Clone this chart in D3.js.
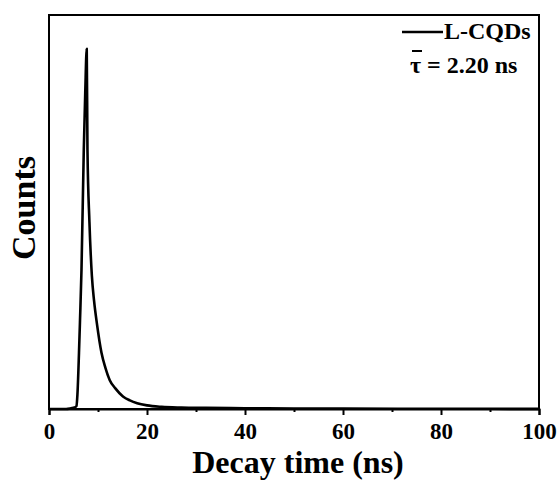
<!DOCTYPE html>
<html>
<head>
<meta charset="utf-8">
<script src="https://cdn.jsdelivr.net/npm/d3@7"></script>
<style>
  body { margin: 0; background: #fff; }
  text { font-family: "Liberation Serif", "Times New Roman", serif; font-weight: bold; fill: #000; }
</style>
</head>
<body>
<svg id="chart" width="560" height="480"></svg>
<script>
// decay trace (counts normalised to the peak)
const timeNs = [0, 3.5, 4.5, 5.2, 5.6, 5.8, 6.12, 6.33, 6.63, 7.1, 7.4, 7.7,
  7.85, 8.25, 8.75, 9.2, 9.8, 10.7, 11.5, 12.4, 13.5, 15.1, 16.5, 18, 20,
  23, 27, 32, 40, 50, 60, 75, 90, 100];
const counts = [0, 0, 0.002, 0.004, 0.008, 0.04, 0.156, 0.247, 0.386, 0.72, 0.88, 1.0,
  0.72, 0.52, 0.37, 0.30, 0.235, 0.157, 0.115, 0.08, 0.058, 0.035, 0.024, 0.016, 0.010,
  0.006, 0.004, 0.003, 0.002, 0.0015, 0.001, 0.0007, 0.0005, 0.0004];
const xTicks = [0, 20, 40, 60, 80, 100];
const xMinorTicks = [10, 30, 50, 70, 90];
const seriesName = 'L-CQDs';
const tauLabel = '2.20 ns';

const margin = { top: 15, right: 21, bottom: 71, left: 49 };
const width = 560, height = 480;
const svg = d3.select('#chart');

const x = d3.scaleLinear().domain([0, 100]).range([margin.left, width - margin.right]);
const y = d3.scaleLinear().domain([0, 1.094]).range([height - margin.bottom, margin.top]);

const data = timeNs.map((t, i) => ({ t, c: counts[i] }));

// frame
svg.append('rect')
  .attr('x', margin.left).attr('y', margin.top)
  .attr('width', x(100) - x(0)).attr('height', y(0) - y(1.094))
  .attr('fill', 'none').attr('stroke', '#000').attr('stroke-width', 2);

// x axis
const xAxis = svg.append('g')
  .attr('transform', `translate(0,${y(0)})`)
  .call(d3.axisBottom(x).tickValues(xTicks).tickSize(6).tickPadding(8).tickFormat(d3.format('d')));
xAxis.select('.domain').attr('stroke-width', 2);
xAxis.selectAll('.tick line').attr('stroke-width', 2);
xAxis.selectAll('.tick text')
  .style('font-family', '"Liberation Serif", serif').style('font-weight', 'bold')
  .style('font-size', '23px');

svg.append('g')
  .attr('transform', `translate(0,${y(0)})`)
  .call(d3.axisBottom(x).tickValues(xMinorTicks).tickSize(3).tickFormat(''))
  .call(g => g.select('.domain').remove())
  .selectAll('.tick line').attr('stroke-width', 2);

// curve
const line = d3.line().x(d => x(d.t)).y(d => y(d.c)).curve(d3.curveMonotoneX);
svg.append('path')
  .datum(data)
  .attr('fill', 'none').attr('stroke', '#000').attr('stroke-width', 2.6)
  .attr('stroke-linejoin', 'round')
  .attr('d', line);

// axis titles
svg.append('text')
  .attr('x', (x(0) + x(100)) / 2 + 4).attr('y', 473)
  .attr('text-anchor', 'middle').style('font-size', '32px')
  .text('Decay time (ns)');

svg.append('text')
  .attr('transform', 'translate(35,208) rotate(-90)')
  .attr('text-anchor', 'middle').style('font-size', '34px')
  .text('Counts');

// legend
svg.append('line')
  .attr('x1', 402).attr('x2', 443).attr('y1', 32).attr('y2', 32)
  .attr('stroke', '#000').attr('stroke-width', 2.4);
svg.append('text')
  .attr('x', 444).attr('y', 39).style('font-size', '24px')
  .text(seriesName);
const tau = svg.append('text')
  .attr('x', 410).attr('y', 73).style('font-size', '24px');
tau.append('tspan').text('τ');
tau.append('tspan').text(' = ' + tauLabel);
svg.append('line')
  .attr('x1', 412).attr('x2', 422).attr('y1', 51).attr('y2', 51)
  .attr('stroke', '#000').attr('stroke-width', 2);
</script>
</body>
</html>
